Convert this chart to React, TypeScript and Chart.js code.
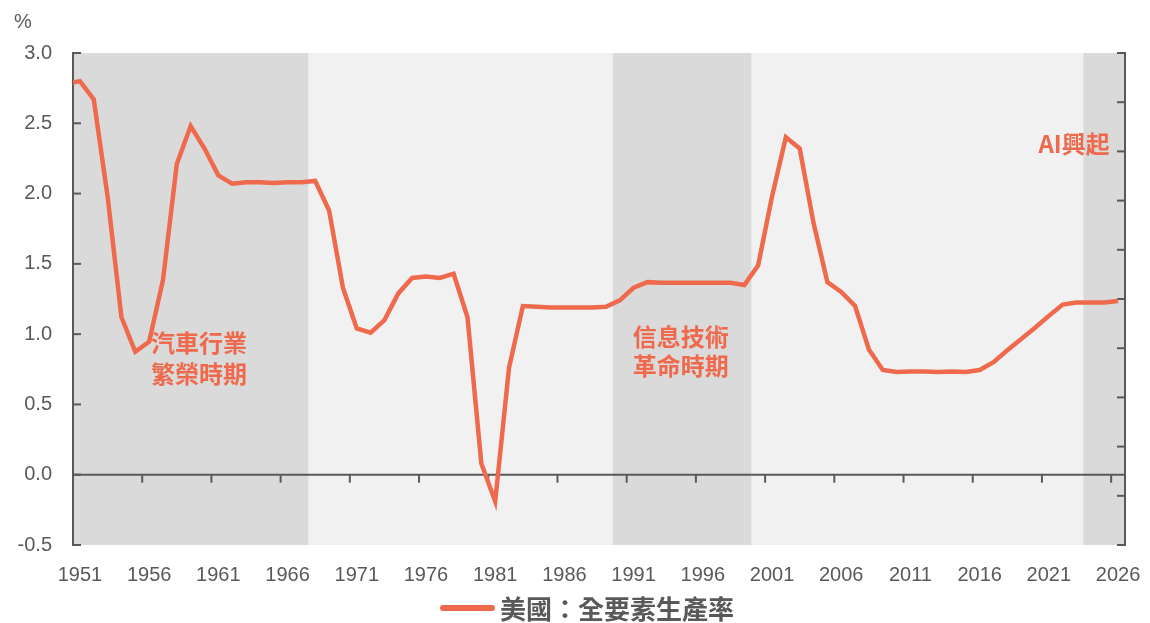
import React, { useEffect, useRef } from 'react';
import { Chart, registerables } from 'chart.js';

Chart.register(...registerables);

const years = [
  1950, 1951, 1952, 1953, 1954, 1955, 1956, 1957, 1958, 1959,
  1960, 1961, 1962, 1963, 1964, 1965, 1966, 1967, 1968, 1969,
  1970, 1971, 1972, 1973, 1974, 1975, 1976, 1977, 1978, 1979,
  1980, 1981, 1982, 1983, 1984, 1985, 1986, 1987, 1988, 1989,
  1990, 1991, 1992, 1993, 1994, 1995, 1996, 1997, 1998, 1999,
  2000, 2001, 2002, 2003, 2004, 2005, 2006, 2007, 2008, 2009,
  2010, 2011, 2012, 2013, 2014, 2015, 2016, 2017, 2018, 2019,
  2020, 2021, 2022, 2023, 2024, 2025, 2026,
];

const tfpValues = [
  2.78, 2.8, 2.67, 1.98, 1.12, 0.875, 0.946, 1.385, 2.21, 2.48,
  2.32, 2.13, 2.07, 2.08, 2.08, 2.075, 2.08, 2.08, 2.09, 1.88,
  1.33, 1.04, 1.01, 1.1, 1.29, 1.4, 1.41, 1.4, 1.43, 1.12,
  0.08, -0.19, 0.76, 1.2, 1.195, 1.19, 1.19, 1.19, 1.19, 1.195,
  1.24, 1.33, 1.37, 1.365, 1.365, 1.365, 1.365, 1.365, 1.365, 1.35,
  1.49, 1.98, 2.4, 2.32, 1.79, 1.37, 1.3, 1.2, 0.89, 0.745,
  0.73, 0.735, 0.735, 0.73, 0.735, 0.73, 0.745, 0.8, 0.885, 0.965,
  1.045, 1.13, 1.21, 1.225, 1.225, 1.225, 1.235,
];

const xTickYears = [1951, 1956, 1961, 1966, 1971, 1976, 1981, 1986, 1991, 1996, 2001, 2006, 2011, 2016, 2021, 2026];
const firstYear = 1951;
const lastYear = 2026;

// shaded periods (first year, last year), with their labels
const periodStarts = [1951, 1990, 2024];
const periodEnds = [1967, 1999, 2026];
const periodLabels = [['汽車行業', '繁榮時期'], ['信息技術', '革命時期'], ['AI興起']];

const seriesName = '美國：全要素生產率';
const yUnit = '%';

const LINE_COLOR = '#ef6a4d';
const AXIS_COLOR = '#595959';
const DARK_BAND = '#dadada';
const LIGHT_BAND = '#f1f1f1';
const CJK_FONT = '"Noto Sans CJK TC", "Noto Sans CJK SC", sans-serif';
const NUM_FONT = '"Liberation Sans", Arial, sans-serif';

const decorPlugin = {
  id: 'decor',
  beforeDatasetsDraw(chart: any) {
    const { ctx, chartArea: a, scales } = chart;
    const x = scales.x;
    const y = scales.y;
    const y2 = scales.y2;
    ctx.save();
    ctx.fillStyle = LIGHT_BAND;
    ctx.fillRect(a.left, a.top, a.right - a.left, a.bottom - a.top);
    ctx.fillStyle = DARK_BAND;
    periodStarts.forEach((s, i) => {
      const x0 = x.getPixelForValue(s - 0.5);
      const x1 = x.getPixelForValue(periodEnds[i] + 0.5);
      ctx.fillRect(x0, a.top, x1 - x0, a.bottom - a.top);
    });
    ctx.strokeStyle = AXIS_COLOR;
    ctx.lineWidth = 2;
    ctx.beginPath();
    ctx.moveTo(a.left, a.top - 1);
    ctx.lineTo(a.left, a.bottom + 1);
    ctx.stroke();
    y.ticks.forEach((t: any) => {
      const py = y.getPixelForValue(t.value);
      ctx.beginPath();
      ctx.moveTo(a.left, py);
      ctx.lineTo(a.left + 8, py);
      ctx.stroke();
    });
    ctx.beginPath();
    ctx.moveTo(a.right, a.top - 1);
    ctx.lineTo(a.right, a.bottom + 1);
    ctx.stroke();
    y2.ticks.forEach((t: any) => {
      const py = y2.getPixelForValue(t.value);
      ctx.beginPath();
      ctx.moveTo(a.right, py);
      ctx.lineTo(a.right - 8, py);
      ctx.stroke();
    });
    const y0 = y.getPixelForValue(0);
    ctx.beginPath();
    ctx.moveTo(a.left, y0);
    ctx.lineTo(a.right, y0);
    ctx.stroke();
    xTickYears.forEach((yr) => {
      const px = x.getPixelForValue(yr - 0.5);
      ctx.beginPath();
      ctx.moveTo(px, y0);
      ctx.lineTo(px, y0 + 8);
      ctx.stroke();
    });
    ctx.restore();
  },
  afterDraw(chart: any) {
    const { ctx, scales } = chart;
    const x = scales.x;
    const y = scales.y;
    ctx.save();
    ctx.fillStyle = LINE_COLOR;
    ctx.font = `bold 24px ${CJK_FONT}`;
    ctx.textBaseline = 'middle';
    ctx.textAlign = 'center';
    const p1x = x.getPixelForValue(1959.6);
    const p1y = y.getPixelForValue(0.94);
    ctx.fillText(periodLabels[0][0], p1x, p1y);
    ctx.fillText(periodLabels[0][1], p1x, p1y + 31);
    const p2x = x.getPixelForValue(1994.4);
    const p2y = y.getPixelForValue(0.98);
    ctx.fillText(periodLabels[1][0], p2x, p2y);
    ctx.fillText(periodLabels[1][1], p2x, p2y + 29);
    ctx.textAlign = 'right';
    ctx.fillText(periodLabels[2][0], x.getPixelForValue(2025.4), y.getPixelForValue(2.35));
    ctx.fillStyle = AXIS_COLOR;
    ctx.font = `20px ${NUM_FONT}`;
    ctx.textAlign = 'left';
    ctx.fillText(yUnit, 14, 22);
    const lx = 440;
    const ly = 608;
    ctx.strokeStyle = LINE_COLOR;
    ctx.lineWidth = 6;
    ctx.lineCap = 'round';
    ctx.beginPath();
    ctx.moveTo(lx + 3, ly);
    ctx.lineTo(lx + 52, ly);
    ctx.stroke();
    ctx.fillStyle = AXIS_COLOR;
    ctx.font = `bold 26px ${CJK_FONT}`;
    ctx.textAlign = 'left';
    ctx.textBaseline = 'middle';
    ctx.fillText(seriesName, lx + 60, ly + 1);
    ctx.restore();
  },
};

export default function App() {
  const canvasRef = useRef<HTMLCanvasElement | null>(null);

  useEffect(() => {
    const canvas = canvasRef.current;
    if (!canvas) return;
    const chart = new Chart(canvas, {
      type: 'line',
      data: {
        datasets: [
          {
            label: seriesName,
            data: years.map((yr, i) => ({ x: yr, y: tfpValues[i] })),
            borderColor: LINE_COLOR,
            backgroundColor: LINE_COLOR,
            borderWidth: 4.5,
            pointRadius: 0,
            tension: 0,
            yAxisID: 'y',
          },
        ],
      },
      options: {
        animation: false,
        responsive: false,
        layout: { padding: { top: 53, left: 0, right: 0, bottom: 0 } },
        plugins: {
          legend: { display: false },
          tooltip: { enabled: false },
        },
        scales: {
          x: {
            type: 'linear',
            min: firstYear - 0.5,
            max: lastYear + 0.5,
            grid: { display: false, drawTicks: false },
            border: { display: false },
            afterBuildTicks: (scale: any) => {
              scale.ticks = xTickYears.map((v) => ({ value: v }));
            },
            afterFit: (scale: any) => {
              scale.height = 78;
              scale.paddingLeft = 0;
              scale.paddingRight = 0;
            },
            ticks: {
              autoSkip: false,
              maxRotation: 0,
              padding: 18,
              color: AXIS_COLOR,
              font: { family: NUM_FONT, size: 20 },
              callback: (v: any) => String(v),
            },
          },
          y: {
            type: 'linear',
            position: 'left',
            min: -0.5,
            max: 3.0,
            grid: { display: false, drawTicks: false },
            border: { display: false },
            afterFit: (scale: any) => {
              scale.width = 73;
              scale.paddingTop = 0;
              scale.paddingBottom = 0;
            },
            ticks: {
              stepSize: 0.5,
              padding: 21,
              color: AXIS_COLOR,
              font: { family: NUM_FONT, size: 20 },
              callback: (v: any) => Number(v).toFixed(1),
            },
          },
          y2: {
            type: 'linear',
            position: 'right',
            min: 0,
            max: 10,
            grid: { display: false, drawTicks: false },
            border: { display: false },
            afterFit: (scale: any) => {
              scale.width = 25;
            },
            ticks: { stepSize: 1, display: false },
          },
        },
      },
      plugins: [decorPlugin],
    } as any);
    return () => chart.destroy();
  }, []);

  return (
    <div style={{ position: 'absolute', left: 0, top: 0, width: 1150, height: 623, background: '#fff' }}>
      <canvas ref={canvasRef} width={1150} height={623} style={{ display: 'block' }} />
    </div>
  );
}
